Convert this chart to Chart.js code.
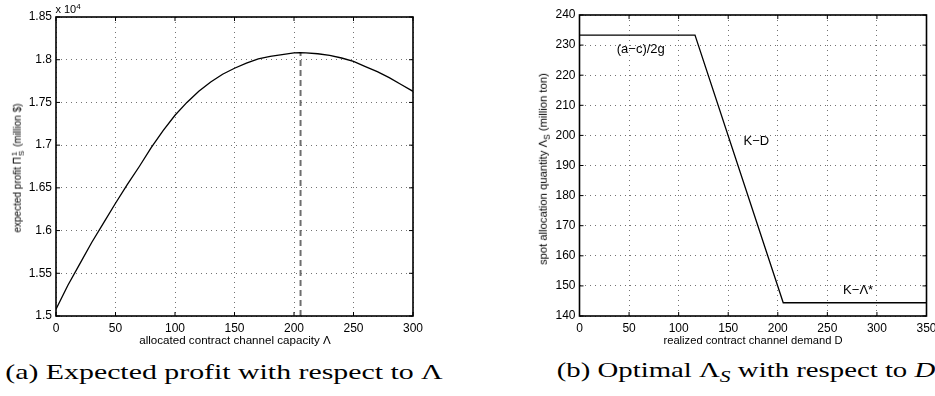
<!DOCTYPE html>
<html>
<head>
<meta charset="utf-8">
<script src="https://cdn.jsdelivr.net/npm/chart.js@4"></script>
<style>
  html, body { margin: 0; padding: 0; width: 935px; height: 396px; overflow: hidden; background: #fff; }
  canvas { position: absolute; top: 0; }
  .t { position: absolute; white-space: nowrap; color: #000; transform-origin: 0 0;
       font-family: "Liberation Sans", Arial, sans-serif; line-height: 1; }
  .cap { font-family: "Liberation Serif", "DejaVu Serif", serif; font-size: 22px; }
  .ss { display: inline-flex; flex-direction: column; vertical-align: middle; font-size: 0.8em; line-height: 0.9; margin: 0 1px; }
  sub { font-size: 0.75em; }
</style>
</head>
<body>
<div id="wrapA" style="position:absolute;left:0;top:0;width:460px;height:350px"><canvas id="profitChart"></canvas></div>
<div id="wrapB" style="position:absolute;left:460px;top:0;width:490px;height:350px"><canvas id="spotChart"></canvas></div>

<div class="t" id="expo" style="font-size:11px">x 10<sup style="font-size:8px">4</sup></div>
<div class="t" id="yTitleA" style="font-size:10px">expected profit &Pi;<span class="ss"><span>1</span><span>S</span></span> (million $)</div>
<div class="t" id="xTitleA" style="font-size:11px">allocated contract channel capacity &Lambda;</div>
<div class="t" id="yTitleB" style="font-size:11px">spot allocation quantity &Lambda;<sub>S</sub> (million ton)</div>
<div class="t" id="xTitleB" style="font-size:11px">realized contract channel demand D</div>
<div class="t cap" id="capA">(a) Expected profit with respect to &Lambda;</div>
<div class="t cap" id="capB">(b) Optimal &Lambda;<sub><i>S</i></sub> with respect to <i>D</i></div>

<script>
// left panel: expected profit (x 10^4) vs allocated capacity
const capacity = [0, 10, 20, 30, 40, 50, 60, 70, 80, 90, 100, 110, 120, 130, 140, 150,
  160, 170, 180, 190, 200, 205, 210, 220, 230, 240, 250, 260, 270, 280, 290, 300];
const expectedProfit = [1.508, 1.536, 1.561, 1.586, 1.609, 1.632, 1.654, 1.675, 1.697, 1.717,
  1.735, 1.750, 1.763, 1.774, 1.783, 1.790, 1.796, 1.801, 1.804, 1.806, 1.808, 1.8082,
  1.808, 1.807, 1.805, 1.802, 1.798, 1.792, 1.786, 1.779, 1.771, 1.763];
const optimumX = [205.5, 205.5];
const optimumY = [1.5, 1.8082];

// right panel: optimal spot allocation vs realized demand
const demand = [0, 116.5, 205.5, 350];
const spotAllocation = [233.3, 233.3, 144.4, 144.4];
const noteText = ['(a\u2212c)/2g', 'K\u2212D', 'K\u2212\u039B*'];
const noteX = [37.6, 165.5, 265.9];
const noteY = [228.4, 197.9, 148.6];

const font = { family: '"Liberation Sans", Arial, sans-serif', size: 12 };

function pts(xs, ys) {
  return xs.map((x, i) => ({ x: x, y: ys[i] }));
}

// matlab style box with inward ticks
const boxPlugin = {
  id: 'box',
  afterDraw(chart) {
    const { ctx, chartArea: a, scales } = chart;
    ctx.save();
    ctx.strokeStyle = '#000';
    ctx.lineWidth = 1;
    ctx.beginPath();
    scales.x.ticks.forEach(t => {
      const px = scales.x.getPixelForValue(t.value);
      ctx.moveTo(px, a.bottom); ctx.lineTo(px, a.bottom - 4);
      ctx.moveTo(px, a.top); ctx.lineTo(px, a.top + 4);
    });
    scales.y.ticks.forEach(t => {
      const py = scales.y.getPixelForValue(t.value);
      ctx.moveTo(a.left, py); ctx.lineTo(a.left + 4, py);
      ctx.moveTo(a.right, py); ctx.lineTo(a.right - 4, py);
    });
    ctx.stroke();
    ctx.lineWidth = 1.6;
    ctx.strokeRect(a.left, a.top, a.right - a.left, a.bottom - a.top);
    ctx.restore();
  }
};

const notePlugin = {
  id: 'notes',
  afterDatasetsDraw(chart) {
    if (chart.canvas.id !== 'spotChart') return;
    const { ctx, scales } = chart;
    ctx.save();
    ctx.fillStyle = '#000';
    ctx.font = '13px "Liberation Sans", Arial, sans-serif';
    ctx.textAlign = 'left';
    ctx.textBaseline = 'middle';
    noteText.forEach((s, i) => {
      ctx.fillText(s, scales.x.getPixelForValue(noteX[i]), scales.y.getPixelForValue(noteY[i]));
    });
    ctx.restore();
  }
};

function axes(xmin, xmax, xstep, ymin, ymax, ystep, yWidth, xHeight) {
  const grid = { color: 'rgba(0,0,0,0.55)', lineWidth: 1, drawTicks: false };
  return {
    x: {
      type: 'linear', min: xmin, max: xmax,
      ticks: { stepSize: xstep, font: font, color: '#000', padding: 5, maxRotation: 0 },
      grid: grid,
      border: { display: false, dash: [1, 4] },
      afterFit: s => { s.height = xHeight; }
    },
    y: {
      type: 'linear', min: ymin, max: ymax,
      ticks: { stepSize: ystep, font: font, color: '#000', padding: 4,
        callback: v => String(+v.toFixed(2)) },
      grid: grid,
      border: { display: false, dash: [1, 4] },
      afterFit: s => { s.width = yWidth; }
    }
  };
}

const common = {
  responsive: true,
  maintainAspectRatio: false,
  animation: false,
  events: [],
  plugins: { legend: { display: false }, tooltip: { enabled: false } }
};

new Chart(document.getElementById('profitChart'), {
  type: 'scatter',
  data: {
    datasets: [{
      data: pts(capacity, expectedProfit),
      showLine: true, borderColor: '#000', borderWidth: 1.3, pointRadius: 0, tension: 0
    }, {
      data: pts(optimumX, optimumY),
      showLine: true, borderColor: '#6e6e6e', borderWidth: 2, borderDash: [6, 4], pointRadius: 0
    }]
  },
  options: Object.assign({}, common, {
    layout: { padding: { top: 17, right: 47, bottom: 0, left: 0 } },
    scales: axes(0, 300, 50, 1.5, 1.85, 0.05, 56, 34)
  }),
  plugins: [boxPlugin]
});

new Chart(document.getElementById('spotChart'), {
  type: 'scatter',
  data: {
    datasets: [{
      data: pts(demand, spotAllocation),
      showLine: true, borderColor: '#000', borderWidth: 1.3, pointRadius: 0, tension: 0
    }]
  },
  options: Object.assign({}, common, {
    layout: { padding: { top: 15, right: 23.5, bottom: 0, left: 0 } },
    scales: axes(0, 350, 50, 140, 240, 10, 119.5, 34)
  }),
  plugins: [boxPlugin, notePlugin]
});

// text placement: centre at (cx, cy), stretched to width w
function place(id, cx, cy, w, rot) {
  const el = document.getElementById(id);
  const s = w ? w / el.offsetWidth : 1;
  el.style.left = cx + 'px';
  el.style.top = cy + 'px';
  el.style.transform = `rotate(${rot || 0}deg) scaleX(${s}) translate(-50%,-50%)`;
}
place('expo', 68, 9, 0);
place('yTitleA', 18, 168, 0, -90);
place('xTitleA', 235, 340, 192);
place('yTitleB', 545, 169, 192, -90);
place('xTitleB', 753, 340, 179);
place('capA', 224, 372, 438);
place('capB', 746, 372, 378);
</script>
</body>
</html>
